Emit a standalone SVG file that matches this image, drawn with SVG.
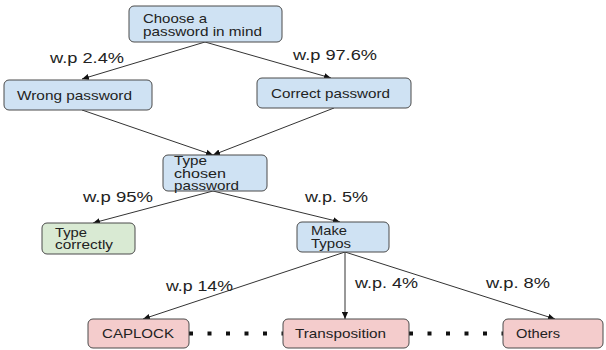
<svg xmlns="http://www.w3.org/2000/svg" width="606" height="350" viewBox="0 0 606 350">
<defs>
<style>
.box{stroke:#4a4a4a;stroke-width:1}
.blue{fill:#cfe2f3}
.green{fill:#d9ead3}
.red{fill:#f4cccc}
text{font-family:"Liberation Sans",Arial,sans-serif;fill:#222;font-size:13px}
.lbl{font-size:14px}
.edge{stroke:#333;stroke-width:1;fill:none}
.dots{stroke:#111;stroke-width:4;stroke-dasharray:4 14.5;fill:none}
</style>
<marker id="ah" viewBox="0 0 8 8" refX="8" refY="4" markerWidth="7" markerHeight="7" markerUnits="userSpaceOnUse" orient="auto">
<path d="M0,0.5 L8,4 L0,7.5 Z" fill="#111"/>
</marker>
</defs>
<g id="connectors">
<line class="edge" x1="205" y1="42" x2="82" y2="79" marker-end="url(#ah)"/>
<line class="edge" x1="205" y1="42" x2="331" y2="78" marker-end="url(#ah)"/>
<line class="edge" x1="82" y1="110" x2="213" y2="155" marker-end="url(#ah)"/>
<line class="edge" x1="334" y1="108" x2="213" y2="155" marker-end="url(#ah)"/>
<line class="edge" x1="213" y1="191" x2="93" y2="223" marker-end="url(#ah)"/>
<line class="edge" x1="213" y1="191" x2="340" y2="222" marker-end="url(#ah)"/>
<line class="edge" x1="345" y1="252" x2="345" y2="319" marker-end="url(#ah)"/>
<line class="edge" x1="345" y1="252" x2="143" y2="319" marker-end="url(#ah)"/>
<line class="edge" x1="345" y1="252" x2="555" y2="319" marker-end="url(#ah)"/>
<line class="dots" x1="189" y1="333.5" x2="283" y2="333.5"/>
<line class="dots" x1="409" y1="333.5" x2="503" y2="333.5"/>
</g>
<g id="labels">
<text class="lbl" x="50" y="63" textLength="74" lengthAdjust="spacingAndGlyphs">w.p 2.4%</text>
<text class="lbl" x="293" y="60" textLength="84" lengthAdjust="spacingAndGlyphs">w.p 97.6%</text>
<text class="lbl" x="83" y="202" textLength="70" lengthAdjust="spacingAndGlyphs">w.p 95%</text>
<text class="lbl" x="305" y="202" textLength="63" lengthAdjust="spacingAndGlyphs">w.p. 5%</text>
<text class="lbl" x="166" y="291" textLength="67" lengthAdjust="spacingAndGlyphs">w.p 14%</text>
<text class="lbl" x="355" y="288" textLength="63" lengthAdjust="spacingAndGlyphs">w.p. 4%</text>
<text class="lbl" x="486" y="288" textLength="64" lengthAdjust="spacingAndGlyphs">w.p. 8%</text>
</g>
<g id="node-choose">
<rect class="box blue" x="129" y="6" width="153" height="36" rx="5"/>
<text x="143" y="22.5" textLength="64" lengthAdjust="spacingAndGlyphs">Choose a</text>
<text x="143" y="35.5" textLength="119" lengthAdjust="spacingAndGlyphs">password in mind</text>
</g>
<g id="node-wrong">
<rect class="box blue" x="4" y="80" width="148" height="30" rx="5"/>
<text x="17" y="100" textLength="115" lengthAdjust="spacingAndGlyphs">Wrong password</text>
</g>
<g id="node-correct">
<rect class="box blue" x="257" y="78" width="154" height="30" rx="5"/>
<text x="271" y="98" textLength="119" lengthAdjust="spacingAndGlyphs">Correct password</text>
</g>
<g id="node-type-chosen">
<rect class="box blue" x="163" y="155" width="104" height="36" rx="5"/>
<text x="174" y="165" textLength="33" lengthAdjust="spacingAndGlyphs">Type</text>
<text x="174" y="177.5" textLength="52" lengthAdjust="spacingAndGlyphs">chosen</text>
<text x="174" y="189.5" textLength="65" lengthAdjust="spacingAndGlyphs">password</text>
</g>
<g id="node-type-correctly">
<rect class="box green" x="42" y="223" width="93" height="31" rx="5"/>
<text x="55" y="237" textLength="32" lengthAdjust="spacingAndGlyphs">Type</text>
<text x="55" y="249" textLength="58" lengthAdjust="spacingAndGlyphs">correctly</text>
</g>
<g id="node-make-typos">
<rect class="box blue" x="297" y="222" width="92" height="30" rx="5"/>
<text x="311" y="235" textLength="36" lengthAdjust="spacingAndGlyphs">Make</text>
<text x="311" y="248" textLength="40" lengthAdjust="spacingAndGlyphs">Typos</text>
</g>
<g id="node-caplock">
<rect class="box red" x="88" y="319" width="101" height="29" rx="5"/>
<text x="102" y="338" textLength="72" lengthAdjust="spacingAndGlyphs">CAPLOCK</text>
</g>
<g id="node-transposition">
<rect class="box red" x="283" y="319" width="126" height="29" rx="5"/>
<text x="295" y="338" textLength="91" lengthAdjust="spacingAndGlyphs">Transposition</text>
</g>
<g id="node-others">
<rect class="box red" x="503" y="319" width="100" height="29" rx="5"/>
<text x="516" y="338" textLength="44" lengthAdjust="spacingAndGlyphs">Others</text>
</g>
</svg>
